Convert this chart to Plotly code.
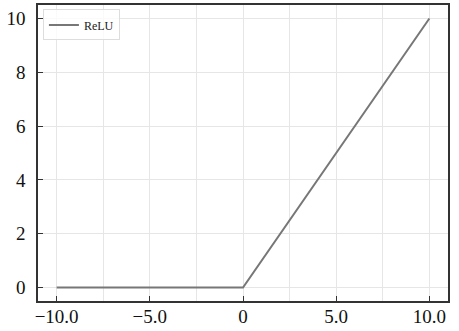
import plotly.graph_objects as go

x_vals = [-10, 0, 10]
y_vals = [0, 0, 10]
series_name = "ReLU"
x_tick_vals = [-10, -5, 0, 5, 10]
x_tick_text = ["−10.0", "−5.0", "0", "5.0", "10.0"]
y_tick_vals = [0, 2, 4, 6, 8, 10]

font_family = "Liberation Serif, DejaVu Serif, serif"

fig = go.Figure()
fig.add_trace(go.Scatter(
    x=x_vals, y=y_vals, mode="lines", name=series_name,
    line=dict(color="#777777", width=2),
))

fig.update_layout(
    width=459, height=331,
    margin=dict(l=38, r=11, t=5, b=30, autoexpand=False),
    paper_bgcolor="white", plot_bgcolor="white",
    showlegend=True,
    legend=dict(
        x=0.012, y=0.985, xanchor="left", yanchor="top",
        bgcolor="rgba(255,255,255,0.8)", bordercolor="#dddddd", borderwidth=1,
        font=dict(family=font_family, size=12, color="#222222"),
        itemwidth=30, tracegroupgap=0,
    ),
    font=dict(family=font_family, color="#111111"),
)

fig.update_xaxes(
    range=[-11, 11], automargin=False,
    tickmode="array", tickvals=x_tick_vals, ticktext=x_tick_text,
    ticks="inside", ticklen=5, tickcolor="#333333", tickwidth=1,
    ticklabelstandoff=-3,
    tickfont=dict(family=font_family, size=19, color="#111111"),
    showline=True, linecolor="#333333", linewidth=1.5, mirror=True,
    showgrid=True, gridcolor="#e6e6e6", gridwidth=1,
    minor=dict(tickmode="array", tickvals=[-7.5, -2.5, 2.5, 7.5], showgrid=True, gridcolor="#e6e6e6", gridwidth=1, ticks=""),
    zeroline=False,
)
fig.update_yaxes(
    range=[-0.5, 10.5], automargin=False,
    tickmode="array", tickvals=y_tick_vals,
    ticks="inside", ticklen=5, tickcolor="#333333", tickwidth=1,
    ticklabelstandoff=7,
    tickfont=dict(family=font_family, size=19, color="#111111"),
    showline=True, linecolor="#333333", linewidth=1.5, mirror=True,
    showgrid=True, gridcolor="#e6e6e6", gridwidth=1,
    zeroline=False,
)

fig.write_html(
    "out.html",
    config={"displayModeBar": False},
    post_script="document.body.style.margin='0';document.body.style.padding='0';",
)
